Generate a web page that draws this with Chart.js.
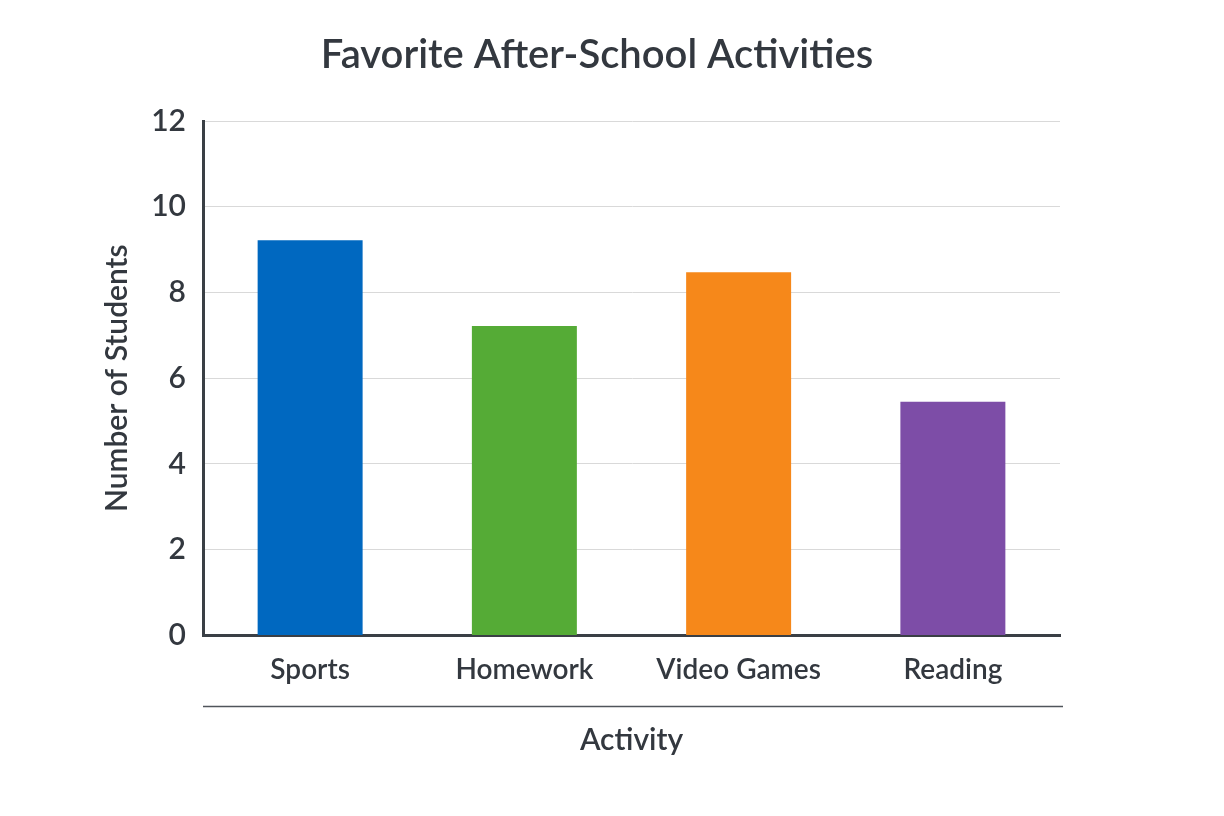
<!DOCTYPE html>
<html>
<head>
<meta charset="utf-8">
<script src="https://cdn.jsdelivr.net/npm/chart.js@4"></script>
<style>
  html, body { margin: 0; padding: 0; background: #ffffff; }
  #wrap { width: 1224px; height: 816px; }
</style>
</head>
<body>
<div id="wrap"><canvas id="activityChart"></canvas></div>
<script>
const activities = ["Sports", "Homework", "Video Games", "Reading"];
const students = [9.22, 7.22, 8.47, 5.45];
const barColors = ["#0068C0", "#55AB36", "#F6881A", "#7D4DA7"];
const yTicks = [0, 2, 4, 6, 8, 10, 12];

const textColor = "#33383F";
const fontFamily = "Lato, 'Noto Sans', sans-serif";

// thin rule between the category labels and the axis title
const separatorLine = {
    id: "separatorLine",
    afterDraw(chart) {
        const area = chart.chartArea;
        const c = chart.ctx;
        c.save();
        c.strokeStyle = "#50555B";
        c.lineWidth = 1.5;
        c.beginPath();
        c.moveTo(area.left, area.bottom + 71);
        c.lineTo(area.right + 3, area.bottom + 71);
        c.stroke();
        c.restore();
    }
};

document.addEventListener("DOMContentLoaded", function () {
    const ctx = document.getElementById("activityChart");

    new Chart(ctx, {
        type: "bar",
        data: {
            labels: activities,
            datasets: [
                {
                    label: "Number of Students",
                    data: students,
                    backgroundColor: barColors,
                    borderWidth: 0,
                    categoryPercentage: 1,
                    barPercentage: 0.49
                }
            ]
        },
        options: {
            responsive: true,
            maintainAspectRatio: false,
            animation: false,
            layout: {
                padding: { left: 134, right: 164, top: 0, bottom: 58 }
            },
            plugins: {
                legend: { display: false },
                tooltip: { enabled: false },
                title: {
                    display: true,
                    text: "Favorite After-School Activities",
                    color: textColor,
                    font: { family: fontFamily, size: 40, weight: "600" },
                    padding: { top: 31, bottom: 42 }
                }
            },
            scales: {
                x: {
                    grid: { display: false, drawTicks: false },
                    border: { display: true, color: "#3A3F45", width: 3 },
                    ticks: {
                        color: textColor,
                        padding: 18,
                        font: { family: fontFamily, size: 28, weight: "600" }
                    },
                    title: {
                        display: true,
                        text: "Activity",
                        color: textColor,
                        font: { family: fontFamily, size: 30, weight: "600" },
                        padding: { top: 17, bottom: 0 }
                    }
                },
                y: {
                    min: 0,
                    max: 12,
                    afterFit(scale) { scale.width = 69; },
                    afterBuildTicks(scale) {
                        scale.ticks = yTicks.map(v => ({ value: v }));
                    },
                    grid: { color: "#D9D9D9", lineWidth: 1, drawTicks: false },
                    border: { display: true, color: "#3A3F45", width: 3 },
                    ticks: {
                        color: textColor,
                        padding: 17,
                        font: { family: fontFamily, size: 30, weight: "600" }
                    },
                    title: {
                        display: true,
                        text: "Number of Students",
                        color: textColor,
                        font: { family: fontFamily, size: 30, weight: "600" },
                        padding: { top: -35, bottom: 0 }
                    }
                }
            }
        },
        plugins: [separatorLine]
    });
});
</script>
</body>
</html>
